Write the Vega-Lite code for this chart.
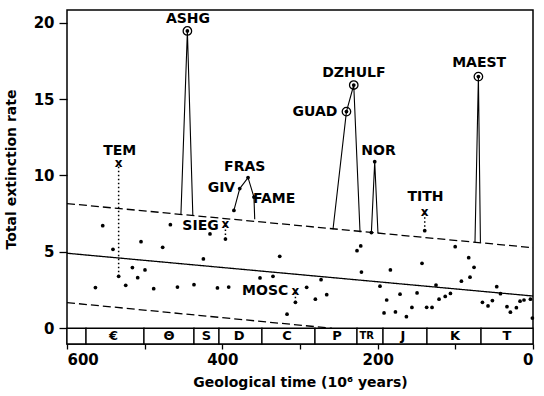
{
  "$schema": "https://vega.github.io/schema/vega-lite/v6.json",
  "width": 466,
  "height": 334,
  "autosize": "none",
  "padding": {"left": 67, "top": 10, "right": 11, "bottom": 52},
  "background": "white",
  "config": {
    "view": {"stroke": "black", "strokeWidth": 1.5},
    "font": "DejaVu Sans",
    "axis": {
      "domain": false, "grid": false, "tickColor": "black", "tickWidth": 1.3,
      "labelColor": "black", "titleColor": "black",
      "labelFont": "DejaVu Sans", "labelFontWeight": "bold", "labelFontSize": 15,
      "titleFont": "DejaVu Sans", "titleFontWeight": "bold", "titleFontSize": 14
    }
  },
  "encoding": {
    "x": {
      "field": "t", "type": "quantitative",
      "scale": {"domain": [0, 600], "reverse": true, "nice": false, "zero": false},
      "axis": {"values": [0, 100, 200, 300, 400, 500, 600], "labelExpr": "datum.value % 200 === 0 ? datum.label : ''", "tickSize": 5, "labelPadding": 3, "titlePadding": 8},
      "title": "Geological time (10⁶ years)"
    }
  },
  "layer": [
    {
      "data": {"values": [
        {"t": 600, "t2": 575.5}, {"t": 575.5, "t2": 500.9}, {"t": 500.9, "t2": 436.5},
        {"t": 436.5, "t2": 404.3}, {"t": 404.3, "t2": 349.0}, {"t": 349.0, "t2": 280.7},
        {"t": 280.7, "t2": 226.6}, {"t": 226.6, "t2": 193.1}, {"t": 193.1, "t2": 136.5},
        {"t": 136.5, "t2": 66.9}, {"t": 66.9, "t2": 0}
      ]},
      "mark": {"type": "rect", "fill": "white", "stroke": "black", "strokeWidth": 1.3},
      "encoding": {
        "x2": {"field": "t2"},
        "y": {"datum": 0, "type": "quantitative", "scale": {"domain": [-1.03, 20.83], "nice": false, "zero": false},
              "axis": {"values": [0, 5, 10, 15, 20], "tickSize": 8, "labelPadding": 5, "titleX": -49, "titleY": 159},
              "title": "Total extinction rate"},
        "y2": {"datum": -1.03}
      }
    },
    {
      "data": {"values": [
        {"t": 540, "sym": "€"}, {"t": 468.7, "sym": "Θ"}, {"t": 420.5, "sym": "S"},
        {"t": 378.5, "sym": "D"}, {"t": 316.8, "sym": "C"}, {"t": 252.4, "sym": "P"},
        {"t": 214, "sym": "TR"}, {"t": 167.4, "sym": "J"}, {"t": 100.4, "sym": "K"}, {"t": 33.5, "sym": "T"}
      ]},
      "mark": {"type": "text", "font": "DejaVu Sans", "fontWeight": "bold", "fontSize": 13, "baseline": "middle", "align": "center", "color": "black"},
      "encoding": {"y": {"datum": -0.5, "type": "quantitative", "title": "Total extinction rate"}, "text": {"field": "sym"}, "size": {"condition": {"test": "datum.sym === 'TR'", "value": 10}, "value": 13}}
    },
    {
      "data": {"values": [
        {"s": "reg", "t": 600, "v": 4.91}, {"s": "reg", "t": 0, "v": 2.11},
        {"s": "upper", "t": 600, "v": 8.16}, {"s": "upper", "t": 0, "v": 5.27},
        {"s": "lower", "t": 600, "v": 1.68}, {"s": "lower", "t": 259, "v": 0}
      ]},
      "mark": {"type": "line", "color": "black", "strokeWidth": 1.3},
      "encoding": {
        "y": {"field": "v", "type": "quantitative", "title": "Total extinction rate"},
        "detail": {"field": "s"},
        "strokeDash": {"field": "s", "type": "nominal", "scale": {"domain": ["reg", "upper", "lower"], "range": [[1, 0], [8, 4], [8, 4]]}, "legend": null}
      }
    },
    {
      "data": {"values": [
        {"g": "ASHG", "o": 1, "t": 453.3, "v": 7.47}, {"g": "ASHG", "o": 2, "t": 445.0, "v": 19.46}, {"g": "ASHG", "o": 3, "t": 438.0, "v": 7.40},
        {"g": "FRAS", "o": 1, "t": 385.1, "v": 7.71}, {"g": "FRAS", "o": 2, "t": 377.6, "v": 9.14}, {"g": "FRAS", "o": 3, "t": 366.9, "v": 9.86}, {"g": "FRAS", "o": 4, "t": 359.3, "v": 8.59}, {"g": "FRAS", "o": 5, "t": 358.3, "v": 7.13},
        {"g": "GUAD", "o": 1, "t": 257.5, "v": 6.48}, {"g": "GUAD", "o": 2, "t": 240.2, "v": 14.18}, {"g": "GUAD", "o": 3, "t": 230.8, "v": 15.92}, {"g": "GUAD", "o": 4, "t": 222.7, "v": 6.28},
        {"g": "NOR", "o": 1, "t": 208.1, "v": 6.26}, {"g": "NOR", "o": 2, "t": 203.8, "v": 10.90}, {"g": "NOR", "o": 3, "t": 199.6, "v": 6.22},
        {"g": "MAEST", "o": 1, "t": 74.7, "v": 5.63}, {"g": "MAEST", "o": 2, "t": 70.3, "v": 16.47}, {"g": "MAEST", "o": 3, "t": 67.7, "v": 5.60}
      ]},
      "mark": {"type": "line", "color": "black", "strokeWidth": 1.1},
      "encoding": {"y": {"field": "v", "type": "quantitative", "title": "Total extinction rate"}, "detail": {"field": "g"}, "order": {"field": "o", "type": "quantitative"}}
    },
    {
      "data": {"values": [
        {"name": "TEM", "t": 533.5, "v": 3.40, "v2": 10.8},
        {"name": "SIEG", "t": 396.0, "v": 5.84, "v2": 6.81},
        {"name": "MOSC", "t": 305.9, "v": 1.70, "v2": 2.46},
        {"name": "TITH", "t": 139.4, "v": 6.39, "v2": 7.59}
      ]},
      "layer": [
        {"mark": {"type": "rule", "color": "black", "strokeWidth": 1.5, "strokeDash": [1.5, 2.5]}, "encoding": {"y": {"field": "v", "type": "quantitative", "title": "Total extinction rate"}, "y2": {"field": "v2", "title": "Total extinction rate"}}},
        {"mark": {"type": "text", "text": "x", "font": "DejaVu Sans", "fontWeight": "bold", "fontSize": 12, "baseline": "middle", "align": "center", "color": "black"}, "encoding": {"y": {"field": "v2", "type": "quantitative", "title": "Total extinction rate"}}}
      ]
    },
    {
      "data": {"values": [
        {"t": 554.0, "v": 6.71}, {"t": 540.8, "v": 5.17}, {"t": 533.5, "v": 3.40}, {"t": 563.4, "v": 2.66},
        {"t": 524.4, "v": 2.81}, {"t": 515.8, "v": 3.97}, {"t": 509.0, "v": 3.31}, {"t": 499.6, "v": 3.82},
        {"t": 504.7, "v": 5.67}, {"t": 488.4, "v": 2.59}, {"t": 476.8, "v": 5.30}, {"t": 466.9, "v": 6.78},
        {"t": 457.8, "v": 2.70}, {"t": 436.5, "v": 2.85}, {"t": 424.4, "v": 4.54}, {"t": 415.9, "v": 6.17},
        {"t": 406.3, "v": 2.64}, {"t": 396.0, "v": 5.84}, {"t": 391.8, "v": 2.70}, {"t": 351.5, "v": 3.29},
        {"t": 334.8, "v": 3.40}, {"t": 326.1, "v": 4.71}, {"t": 305.9, "v": 1.70}, {"t": 316.7, "v": 0.92},
        {"t": 291.4, "v": 2.68}, {"t": 280.2, "v": 1.90}, {"t": 272.9, "v": 3.18}, {"t": 265.6, "v": 2.20},
        {"t": 226.6, "v": 5.08}, {"t": 221.8, "v": 5.39}, {"t": 220.9, "v": 3.68}, {"t": 197.0, "v": 2.75},
        {"t": 191.8, "v": 1.00}, {"t": 188.4, "v": 1.85}, {"t": 183.6, "v": 3.82}, {"t": 177.1, "v": 1.07},
        {"t": 171.2, "v": 2.23}, {"t": 163.0, "v": 0.76}, {"t": 155.9, "v": 1.36}, {"t": 149.3, "v": 2.31},
        {"t": 142.9, "v": 4.25}, {"t": 139.4, "v": 6.39}, {"t": 136.9, "v": 1.37}, {"t": 130.0, "v": 1.36},
        {"t": 124.9, "v": 2.83}, {"t": 121.0, "v": 1.90}, {"t": 113.0, "v": 2.08}, {"t": 106.3, "v": 2.28},
        {"t": 100.2, "v": 5.34}, {"t": 92.2, "v": 3.08}, {"t": 82.8, "v": 4.62}, {"t": 81.1, "v": 3.34},
        {"t": 75.9, "v": 3.99}, {"t": 65.1, "v": 1.70}, {"t": 57.9, "v": 1.46}, {"t": 52.3, "v": 1.81},
        {"t": 46.7, "v": 2.72}, {"t": 41.9, "v": 2.26}, {"t": 33.5, "v": 1.41}, {"t": 29.1, "v": 1.05},
        {"t": 21.4, "v": 1.35}, {"t": 16.7, "v": 1.77}, {"t": 11.6, "v": 1.85}, {"t": 3.3, "v": 1.90},
        {"t": 0.8, "v": 0.67},
        {"t": 385.1, "v": 7.71}, {"t": 377.6, "v": 9.14}, {"t": 366.9, "v": 9.86}, {"t": 359.3, "v": 8.59},
        {"t": 203.8, "v": 10.90}, {"t": 208.1, "v": 6.26},
        {"t": 445.0, "v": 19.46}, {"t": 240.2, "v": 14.18}, {"t": 230.8, "v": 15.92}, {"t": 70.3, "v": 16.47}
      ]},
      "mark": {"type": "circle", "color": "black", "size": 14, "opacity": 1},
      "encoding": {"y": {"field": "v", "type": "quantitative", "title": "Total extinction rate"}}
    },
    {
      "data": {"values": [
        {"name": "ASHG", "t": 445.0, "v": 19.46}, {"name": "GUAD", "t": 240.2, "v": 14.18},
        {"name": "DZHULF", "t": 230.8, "v": 15.92}, {"name": "MAEST", "t": 70.3, "v": 16.47}
      ]},
      "mark": {"type": "point", "shape": "circle", "filled": false, "fill": "white", "fillOpacity": 0, "stroke": "black", "strokeWidth": 1.3, "size": 72, "opacity": 1},
      "encoding": {"y": {"field": "v", "type": "quantitative", "title": "Total extinction rate"}}
    },
    {
      "data": {"values": [
        {"name": "ASHG", "t": 444.2, "v": 20.22}, {"name": "TEM", "t": 532.1, "v": 11.62},
        {"name": "GIV", "t": 401.2, "v": 9.20}, {"name": "FRAS", "t": 371.2, "v": 10.56},
        {"name": "FAME", "t": 333.2, "v": 8.46}, {"name": "SIEG", "t": 428.1, "v": 6.71},
        {"name": "MOSC", "t": 344.8, "v": 2.46}, {"name": "GUAD", "t": 280.8, "v": 14.18},
        {"name": "DZHULF", "t": 230.6, "v": 16.73}, {"name": "NOR", "t": 198.9, "v": 11.62},
        {"name": "TITH", "t": 138.4, "v": 8.57}, {"name": "MAEST", "t": 69.3, "v": 17.34}
      ]},
      "mark": {"type": "text", "font": "DejaVu Sans", "fontWeight": "bold", "fontSize": 14, "baseline": "middle", "align": "center", "color": "black"},
      "encoding": {"y": {"field": "v", "type": "quantitative", "title": "Total extinction rate"}, "text": {"field": "name"}}
    }
  ]
}
